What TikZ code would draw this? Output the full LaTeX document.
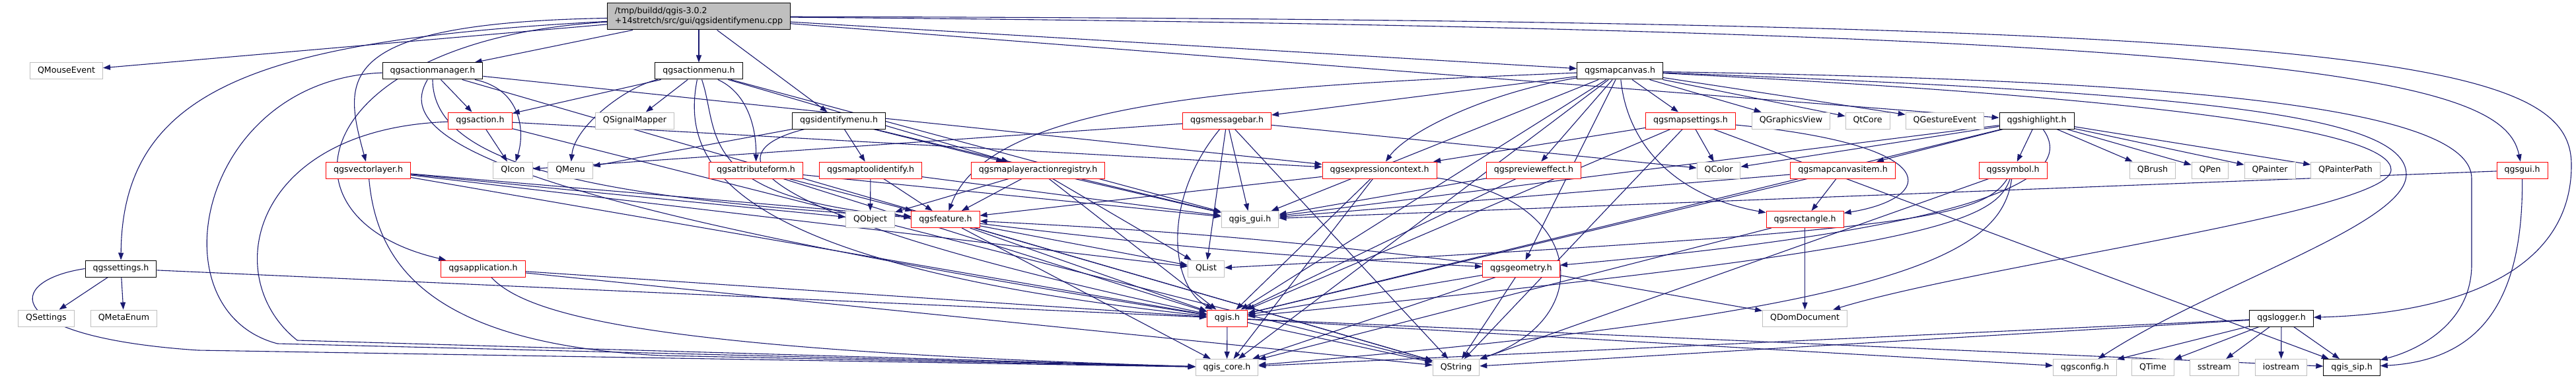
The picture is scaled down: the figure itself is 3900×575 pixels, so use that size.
\documentclass[tikz,border=0pt]{standalone}
\usepackage{fontspec}
\setmainfont{DejaVu Sans}
\usetikzlibrary{arrows.meta}
\definecolor{edgeblue}{HTML}{191970}
\definecolor{boxgrey}{HTML}{BFBFBF}
\pgfdeclarelayer{background}
\pgfsetlayers{background,main}

\begin{document}
\begin{tikzpicture}[x=1pt,y=-1pt,
    every node/.style={font=\fontsize{12.6}{15}\selectfont},
    boxbase/.style={draw=black, fill=white, line width=1pt, inner xsep=11.5pt, inner ysep=0pt},
    box/.style={boxbase, minimum height=25pt, text height=9.4pt, text depth=2.6pt},
    redbox/.style={box, draw=red},
    greybox/.style={box, draw=boxgrey},
    rootbox/.style={boxbase, fill=boxgrey, align=left, minimum height=40pt},
    dep/.style={->, draw=edgeblue, line width=1.1pt},
    >={Triangle[length=11pt,width=8pt]}]
    \useasboundingbox (0,0) rectangle (3900,575);

    \node[rootbox] (root) at (1058,25) {/tmp/buildd/qgis-3.0.2\\+14stretch/src/gui/qgsidentifymenu.cpp};

    \node[greybox] (mouseevent) at (100.5,107.5) {QMouseEvent};
    \node[box] (actionmanager) at (655,107.5) {qgsactionmanager.h};
    \node[box] (actionmenu) at (1058,107.5) {qgsactionmenu.h};
    \node[box] (mapcanvas) at (2452.5,107.5) {qgsmapcanvas.h};

    \node[redbox] (action) at (727,182.5) {qgsaction.h};
    \node[greybox] (signalmapper) at (961,182.5) {QSignalMapper};
    \node[box] (identifymenu) at (1270,182.5) {qgsidentifymenu.h};
    \node[redbox] (messagebar) at (1857.5,182.5) {qgsmessagebar.h};
    \node[redbox] (mapsettings) at (2559.5,182.5) {qgsmapsettings.h};
    \node[greybox] (graphicsview) at (2711.5,182.5) {QGraphicsView};
    \node[greybox] (qtcore) at (2827.5,182.5) {QtCore};
    \node[greybox] (gestureevent) at (2944.5,182.5) {QGestureEvent};
    \node[box] (highlight) at (3083.5,182.5) {qgshighlight.h};

    \node[redbox] (vectorlayer) at (557.5,257.5) {qgsvectorlayer.h};
    \node[greybox] (icon) at (776.5,257.5) {QIcon};
    \node[greybox] (menu) at (863.5,257.5) {QMenu};
    \node[redbox] (attributeform) at (1144.5,257.5) {qgsattributeform.h};
    \node[redbox] (maptoolidentify) at (1318,257.5) {qgsmaptoolidentify.h};
    \node[redbox] (actionregistry) at (1571.5,257.5) {qgsmaplayeractionregistry.h};
    \node[redbox] (exprcontext) at (2088.5,257.5) {qgsexpressioncontext.h};
    \node[redbox] (previeweffect) at (2322,257.5) {qgsprevieweffect.h};
    \node[greybox] (color) at (2602,257.5) {QColor};
    \node[redbox] (canvasitem) at (2790,257.5) {qgsmapcanvasitem.h};
    \node[redbox] (symbol) at (3047.5,257.5) {qgssymbol.h};
    \node[greybox] (brush) at (3259,257.5) {QBrush};
    \node[greybox] (pen) at (3346,257.5) {QPen};
    \node[greybox] (painter) at (3436.5,257.5) {QPainter};
    \node[greybox] (painterpath) at (3551,257.5) {QPainterPath};
    \node[redbox] (gui) at (3818.5,257.5) {qgsgui.h};

    \node[greybox] (object) at (1317.5,332) {QObject};
    \node[redbox] (feature) at (1431.5,332) {qgsfeature.h};
    \node[greybox] (qgisgui) at (1892.5,332) {qgis\_gui.h};
    \node[redbox] (rectangle) at (2732.5,332) {qgsrectangle.h};

    \node[box] (settings) at (183,406.5) {qgssettings.h};
    \node[redbox] (application) at (731.5,406.5) {qgsapplication.h};
    \node[greybox] (list) at (1826,406.5) {QList};
    \node[redbox] (geometry) at (2303,406.5) {qgsgeometry.h};

    \node[greybox] (qsettings) at (70,481.5) {QSettings};
    \node[greybox] (metaenum) at (187.5,481.5) {QMetaEnum};
    \node[redbox] (qgis) at (1858,481.5) {qgis.h};
    \node[greybox] (domdocument) at (2732.5,481.5) {QDomDocument};
    \node[box] (logger) at (3454,481.5) {qgslogger.h};

    \node[greybox] (qgiscore) at (1857.5,556) {qgis\_core.h};
    \node[greybox] (string) at (2204.5,556) {QString};
    \node[greybox] (config) at (3156.5,556) {qgsconfig.h};
    \node[greybox] (time) at (3259.5,556) {QTime};
    \node[greybox] (sstream) at (3352.5,556) {sstream};
    \node[greybox] (iostream) at (3453.5,556) {iostream};
    \node[box] (sip) at (3560.5,556) {qgis\_sip.h};

    \begin{pgfonlayer}{background}
    \draw[dep] (root) -- (mouseevent);
    \draw[dep] (root) -- (actionmanager);
    \draw[dep] (root) -- (actionmenu);
    \draw[dep] (root) -- (identifymenu);
    \draw[dep] (root) -- (mapcanvas);
    \draw[dep] (root) -- (highlight);
    \draw[dep] (root) .. controls (400,60) and (185,130) .. (settings);
    \draw[dep] (root) .. controls (500,35) and (520,120) .. (vectorlayer);
    \draw[dep] (root) .. controls (470,60) and (400,330) .. (application);
    \draw[dep] (root) .. controls (3500,45) and (3790,120) .. (gui);
    \draw[dep] (root) .. controls (3600,30) and (3893,90) .. (3893,250) .. controls (3893,420) and (3700,475) .. (logger);

    \draw[dep] (settings) -- (qsettings);
    \draw[dep] (settings) -- (metaenum);
    \draw[dep] (settings) -- (qgis);
    \draw[dep] (settings.west) .. controls (5,425) and (0,510) .. (300,530) -- (qgiscore);

    \draw[dep] (actionmanager) -- (action);
    \draw[dep] (actionmanager) .. controls (790,135) and (795,200) .. (icon);
    \draw[dep] (actionmanager) .. controls (300,120) and (230,470) .. (420,520) -- (qgiscore);
    \draw[dep] (actionmanager) .. controls (600,200) and (700,300) .. (qgis);
    \draw[dep] (actionmanager) .. controls (655,250) and (900,300) .. (feature);
    \draw[dep] (actionmanager) -- (string);
    \draw[dep] (actionmanager) -- (exprcontext);

    \draw[dep] (action) -- (icon);
    \draw[dep] (action) .. controls (380,195) and (330,420) .. (450,515) -- (qgiscore);
    \draw[dep] (action) -- (string);
    \draw[dep] (action) -- (exprcontext);

    \draw[dep] (actionmenu) .. controls (950,130) and (870,190) .. (menu);
    \draw[dep] (actionmenu) -- (signalmapper);
    \draw[dep] (actionmenu) -- (action);
    \draw[dep] (actionmenu) .. controls (1130,140) and (1145,190) .. (attributeform);
    \draw[dep] (actionmenu) -- (actionregistry);
    \draw[dep] (actionmenu) -- (qgisgui);
    \draw[dep] (actionmenu) .. controls (1030,250) and (1100,400) .. (qgis);
    \draw[dep] (actionmenu) .. controls (1090,200) and (1050,300) .. (feature);

    \draw[dep] (identifymenu) -- (menu);
    \draw[dep] (identifymenu) -- (maptoolidentify);
    \draw[dep] (identifymenu) -- (actionregistry);
    \draw[dep] (identifymenu) -- (qgisgui);
    \draw[dep] (identifymenu) .. controls (1080,230) and (1100,320) .. (qgis);

    \draw[dep] (vectorlayer) .. controls (570,400) and (650,520) .. (1000,538) -- (qgiscore);
    \draw[dep] (vectorlayer) -- (qgis);
    \draw[dep] (vectorlayer) -- (object);
    \draw[dep] (vectorlayer) -- (list);
    \draw[dep] (vectorlayer) -- (feature);

    \draw[dep] (application) -- (qgis);
    \draw[dep] (application) .. controls (800,480) and (1000,530) .. (qgiscore);
    \draw[dep] (application) -- (string);

    \draw[dep] (attributeform) -- (qgis);
    \draw[dep] (attributeform) -- (feature);
    \draw[dep] (attributeform) -- (qgisgui);

    \draw[dep] (maptoolidentify) -- (object);
    \draw[dep] (maptoolidentify) -- (feature);
    \draw[dep] (maptoolidentify) -- (qgisgui);

    \draw[dep] (actionregistry) -- (feature);
    \draw[dep] (actionregistry) -- (qgis);
    \draw[dep] (actionregistry) -- (list);
    \draw[dep] (actionregistry) -- (qgisgui);
    \draw[dep] (actionregistry) -- (object);

    \draw[dep] (messagebar) -- (icon);
    \draw[dep] (messagebar) -- (qgisgui);
    \draw[dep] (messagebar) -- (list);
    \draw[dep] (messagebar) -- (color);
    \draw[dep] (messagebar) -- (string);
    \draw[dep] (messagebar) .. controls (1760,300) and (1770,430) .. (qgis);

    \draw[dep] (mapcanvas) -- (messagebar);
    \draw[dep] (mapcanvas) .. controls (2250,140) and (2130,200) .. (exprcontext);
    \draw[dep] (mapcanvas) -- (previeweffect);
    \draw[dep] (mapcanvas) -- (mapsettings);
    \draw[dep] (mapcanvas) -- (graphicsview);
    \draw[dep] (mapcanvas) -- (qtcore);
    \draw[dep] (mapcanvas) -- (gestureevent);
    \draw[dep] (mapcanvas) .. controls (2465,230) and (2550,300) .. (rectangle);
    \draw[dep] (mapcanvas) -- (qgisgui);
    \draw[dep] (mapcanvas) -- (qgis);
    \draw[dep] (mapcanvas) .. controls (1900,130) and (1500,150) .. (feature);
    \draw[dep] (mapcanvas) -- (geometry);
    \draw[dep] (mapcanvas) -- (qgiscore);
    \draw[dep] (mapcanvas) .. controls (3300,140) and (3643,170) .. (3643,264) .. controls (3643,340) and (3350,430) .. (config);
    \draw[dep] (mapcanvas) .. controls (3300,150) and (3620,200) .. (3620,257) .. controls (3620,320) and (3000,400) .. (domdocument);
    \draw[dep] (mapcanvas) .. controls (3200,120) and (3742,150) .. (3742,270) -- (3742,400) .. controls (3742,490) and (3660,530) .. (sip);

    \draw[dep] (mapsettings) -- (color);
    \draw[dep] (mapsettings) -- (exprcontext);
    \draw[dep] (mapsettings) .. controls (2950,220) and (2930,300) .. (rectangle);
    \draw[dep] (mapsettings) -- (qgis);
    \draw[dep] (mapsettings) -- (sip);
    \draw[dep] (mapsettings) -- (string);

    \draw[dep] (highlight) -- (symbol);
    \draw[dep] (highlight) -- (brush);
    \draw[dep] (highlight) -- (pen);
    \draw[dep] (highlight) -- (painter);
    \draw[dep] (highlight) -- (painterpath);
    \draw[dep] (highlight) -- (color);
    \draw[dep] (highlight) -- (canvasitem);
    \draw[dep] (highlight) -- (qgisgui);
    \draw[dep] (highlight) .. controls (3140,260) and (3050,340) .. (geometry);
    \draw[dep] (highlight) -- (qgis);

    \draw[dep] (exprcontext) -- (feature);
    \draw[dep] (exprcontext) -- (qgis);
    \draw[dep] (exprcontext) -- (qgiscore);
    \draw[dep] (exprcontext) .. controls (2400,300) and (2420,480) .. (string);

    \draw[dep] (previeweffect) -- (qgisgui);
    \draw[dep] (previeweffect) -- (qgis);

    \draw[dep] (canvasitem) -- (rectangle);
    \draw[dep] (canvasitem) -- (qgisgui);
    \draw[dep] (canvasitem) -- (qgis);

    \draw[dep] (symbol) .. controls (3000,330) and (2900,350) .. (list);
    \draw[dep] (symbol) .. controls (3020,340) and (2900,380) .. (qgis);
    \draw[dep] (symbol) .. controls (3030,380) and (2900,470) .. (qgiscore);
    \draw[dep] (symbol) -- (string);

    \draw[dep] (rectangle) -- (domdocument);
    \draw[dep] (rectangle) -- (qgiscore);

    \draw[dep] (feature) to[bend right=2] (geometry);
    \draw[dep] (geometry) to[bend right=2] (feature);
    \draw[dep] (feature) -- (qgis);
    \draw[dep] (feature) -- (qgiscore);
    \draw[dep] (feature) -- (string);
    \draw[dep] (feature) -- (list);

    \draw[dep] (geometry) -- (domdocument);
    \draw[dep] (geometry) -- (qgis);
    \draw[dep] (geometry) -- (qgiscore);
    \draw[dep] (geometry) -- (string);

    \draw[dep] (qgis) -- (qgiscore);
    \draw[dep] (qgis) -- (string);
    \draw[dep] (qgis) -- (config);
    \draw[dep] (qgis) -- (sip);

    \draw[dep] (logger) -- (iostream);
    \draw[dep] (logger) -- (sip);
    \draw[dep] (logger) -- (sstream);
    \draw[dep] (logger) -- (time);
    \draw[dep] (logger) -- (config);
    \draw[dep] (logger) -- (string);
    \draw[dep] (logger) -- (qgiscore);

    \draw[dep] (gui) -- (qgisgui);
    \draw[dep] (gui) .. controls (3820,450) and (3760,545) .. (sip);
    \end{pgfonlayer}
\end{tikzpicture}
\end{document}
